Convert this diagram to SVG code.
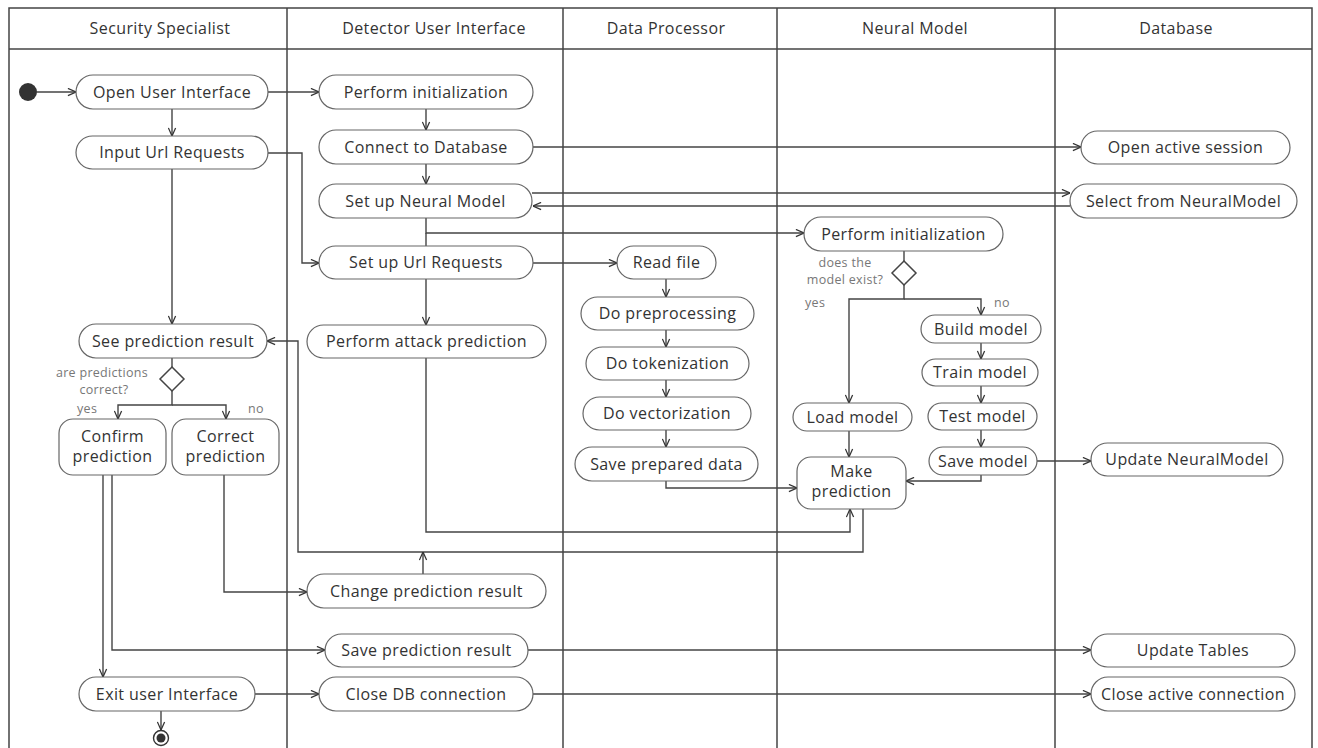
<svg xmlns="http://www.w3.org/2000/svg" width="1318" height="748" viewBox="0 0 1318 748">
<defs>
<marker id="arr" viewBox="0 0 10 10" refX="10" refY="5" markerWidth="9" markerHeight="9" markerUnits="userSpaceOnUse" orient="auto">
<path d="M1,1 L10,5 L1,9" fill="none" stroke="#333" stroke-width="1.4"/>
</marker>
<style>
.lane{fill:none;stroke:#444;stroke-width:1.5}
.hdr{font-family:"Open Sans","Noto Sans",sans-serif;font-size:16px;fill:#333;text-anchor:middle;letter-spacing:0.4px}
.n rect{fill:#fff;stroke:#666;stroke-width:1.2}
.n text{font-family:"Open Sans","Noto Sans",sans-serif;font-size:16px;fill:#333;text-anchor:middle;letter-spacing:0.4px}
.lbl{font-family:"Open Sans","Noto Sans",sans-serif;font-size:12.5px;fill:#777;letter-spacing:0.3px}
.dia{fill:#fff;stroke:#444;stroke-width:1.5}
#connectors path{fill:none;stroke:#444;stroke-width:1.4}
.a{marker-end:url(#arr)}
</style>
</defs>
<rect width="1318" height="748" fill="#fff"/>
<g id="lanes">
<rect class="lane" x="9" y="8" width="1303" height="745"/>
<line class="lane" x1="9" y1="49" x2="1312" y2="49"/>
<line class="lane" x1="287" y1="8" x2="287" y2="748"/>
<line class="lane" x1="563" y1="8" x2="563" y2="748"/>
<line class="lane" x1="777" y1="8" x2="777" y2="748"/>
<line class="lane" x1="1055" y1="8" x2="1055" y2="748"/>
<text class="hdr" x="160" y="34">Security Specialist</text>
<text class="hdr" x="434" y="34">Detector User Interface</text>
<text class="hdr" x="666" y="34">Data Processor</text>
<text class="hdr" x="915" y="34">Neural Model</text>
<text class="hdr" x="1176" y="34">Database</text>
</g>
<g id="connectors">
<path class="a" d="M37,92 H76"/>
<path class="a" d="M268,92 H319"/>
<path class="a" d="M172,109 V136"/>
<path class="a" d="M268,153 H302 V263 H319"/>
<path class="a" d="M172,169 V324"/>
<path d="M172,358 V367"/>
<path class="a" d="M172,391 V405 H118 V419"/>
<path class="a" d="M172,405 H226 V419"/>
<path class="a" d="M103,475 V677"/>
<path class="a" d="M112,475 V650 H325"/>
<path class="a" d="M224,475 V592 H307"/>
<path class="a" d="M255,694 H319"/>
<path class="a" d="M161,711 V730"/>
<path class="a" d="M426,109 V130"/>
<path class="a" d="M533,147 H1081"/>
<path class="a" d="M426,164 V184"/>
<path class="a" d="M532,193 H1070"/>
<path class="a" d="M1070,206 H533"/>
<path class="a" d="M426,218 V233 H804"/>
<path d="M426,233 V246"/>
<path class="a" d="M533,263 H617"/>
<path class="a" d="M426,279 V325"/>
<path class="a" d="M426,358 V532 H850 V509"/>
<path class="a" d="M863,509 V552 H298 V341 H267"/>
<path class="a" d="M423,574 V552"/>
<path class="a" d="M528,650 H1091"/>
<path class="a" d="M533,694 H1091"/>
<path class="a" d="M666,279 V297"/>
<path class="a" d="M666,330 V347"/>
<path class="a" d="M666,380 V397"/>
<path class="a" d="M666,430 V447"/>
<path class="a" d="M666,481 V488 H797"/>
<path d="M904,251 V261"/>
<path class="a" d="M904,285 V299 H849 V403"/>
<path class="a" d="M904,299 H981 V315"/>
<path class="a" d="M981,343 V359"/>
<path class="a" d="M981,386 V403"/>
<path class="a" d="M981,430 V447"/>
<path class="a" d="M981,475 V481 H906"/>
<path class="a" d="M1037,461 H1091"/>
<path class="a" d="M849,431 V457"/>
</g>
<g id="start"><circle cx="28" cy="92" r="9" fill="#333"/></g>
<g id="end"><circle cx="161" cy="738" r="7.5" fill="#fff" stroke="#333" stroke-width="1.4"/><circle cx="161" cy="738" r="4.5" fill="#333"/></g>
<g id="openUI" class="n"><rect x="76" y="75" width="192" height="34" rx="17"/><text x="172" y="97.5">Open User Interface</text></g>
<g id="inputUrl" class="n"><rect x="76" y="136" width="192" height="33" rx="16.5"/><text x="172" y="158">Input Url Requests</text></g>
<g id="seePred" class="n"><rect x="79" y="324" width="188" height="34" rx="17"/><text x="173" y="346.5">See prediction result</text></g>
<g id="decision1"><polygon class="dia" points="172,367 184,379 172,391 160,379"/>
<text class="lbl" x="102" y="377" text-anchor="middle">are predictions</text>
<text class="lbl" x="104" y="394" text-anchor="middle">correct?</text>
<text class="lbl" x="77" y="413">yes</text>
<text class="lbl" x="248" y="413">no</text></g>
<g id="confirm" class="n"><rect x="59" y="419" width="107" height="56" rx="14"/><text x="112.5" y="442">Confirm</text><text x="112.5" y="462">prediction</text></g>
<g id="correct" class="n"><rect x="172" y="419" width="107" height="56" rx="14"/><text x="225.5" y="442">Correct</text><text x="225.5" y="462">prediction</text></g>
<g id="exitUI" class="n"><rect x="79" y="677" width="176" height="34" rx="17"/><text x="167" y="699.5">Exit user Interface</text></g>
<g id="performInit1" class="n"><rect x="319" y="75" width="214" height="34" rx="17"/><text x="426" y="97.5">Perform initialization</text></g>
<g id="connectDB" class="n"><rect x="319" y="130" width="214" height="34" rx="17"/><text x="426" y="152.5">Connect to Database</text></g>
<g id="setupNM" class="n"><rect x="319" y="184" width="213" height="34" rx="17"/><text x="425.5" y="206.5">Set up Neural Model</text></g>
<g id="setupUrl" class="n"><rect x="319" y="246" width="214" height="33" rx="16.5"/><text x="426" y="268">Set up Url Requests</text></g>
<g id="performAttack" class="n"><rect x="307" y="325" width="239" height="33" rx="16.5"/><text x="426.5" y="347">Perform attack prediction</text></g>
<g id="changePred" class="n"><rect x="307" y="574" width="239" height="34" rx="17"/><text x="426.5" y="596.5">Change prediction result</text></g>
<g id="savePred" class="n"><rect x="325" y="634" width="203" height="33" rx="16.5"/><text x="426.5" y="656">Save prediction result</text></g>
<g id="closeDB" class="n"><rect x="319" y="677" width="214" height="34" rx="17"/><text x="426" y="699.5">Close DB connection</text></g>
<g id="readFile" class="n"><rect x="617" y="246" width="99" height="33" rx="16.5"/><text x="666.5" y="268">Read file</text></g>
<g id="preproc" class="n"><rect x="581" y="297" width="173" height="33" rx="16.5"/><text x="667.5" y="319">Do preprocessing</text></g>
<g id="token" class="n"><rect x="586" y="347" width="163" height="33" rx="16.5"/><text x="667.5" y="369">Do tokenization</text></g>
<g id="vector" class="n"><rect x="583" y="397" width="168" height="33" rx="16.5"/><text x="667" y="419">Do vectorization</text></g>
<g id="savePrep" class="n"><rect x="575" y="447" width="183" height="34" rx="17"/><text x="666.5" y="469.5">Save prepared data</text></g>
<g id="performInit2" class="n"><rect x="804" y="217" width="199" height="34" rx="17"/><text x="903.5" y="239.5">Perform initialization</text></g>
<g id="decision2"><polygon class="dia" points="904,261 916,273 904,285 892,273"/>
<text class="lbl" x="845" y="267" text-anchor="middle">does the</text>
<text class="lbl" x="845" y="284" text-anchor="middle">model exist?</text>
<text class="lbl" x="805" y="307">yes</text>
<text class="lbl" x="994" y="307">no</text></g>
<g id="build" class="n"><rect x="921" y="315" width="120" height="28" rx="14"/><text x="981" y="334.5">Build model</text></g>
<g id="train" class="n"><rect x="922" y="359" width="116" height="27" rx="13.5"/><text x="980" y="378">Train model</text></g>
<g id="test" class="n"><rect x="928" y="403" width="109" height="27" rx="13.5"/><text x="982.5" y="422">Test model</text></g>
<g id="saveModel" class="n"><rect x="929" y="447" width="108" height="28" rx="14"/><text x="983" y="466.5">Save model</text></g>
<g id="load" class="n"><rect x="793" y="403" width="119" height="28" rx="14"/><text x="852.5" y="422.5">Load model</text></g>
<g id="makePred" class="n"><rect x="797" y="457" width="109" height="52" rx="14"/><text x="851.5" y="477">Make</text><text x="851.5" y="497">prediction</text></g>
<g id="openSession" class="n"><rect x="1081" y="131" width="209" height="33" rx="16.5"/><text x="1185.5" y="153">Open active session</text></g>
<g id="selectNM" class="n"><rect x="1070" y="184" width="227" height="34" rx="17"/><text x="1183.5" y="206.5">Select from NeuralModel</text></g>
<g id="updateNM" class="n"><rect x="1091" y="443" width="192" height="33" rx="16.5"/><text x="1187" y="465">Update NeuralModel</text></g>
<g id="updateTables" class="n"><rect x="1091" y="634" width="204" height="33" rx="16.5"/><text x="1193" y="656">Update Tables</text></g>
<g id="closeActive" class="n"><rect x="1091" y="677" width="204" height="34" rx="17"/><text x="1193" y="699.5">Close active connection</text></g>
</svg>
